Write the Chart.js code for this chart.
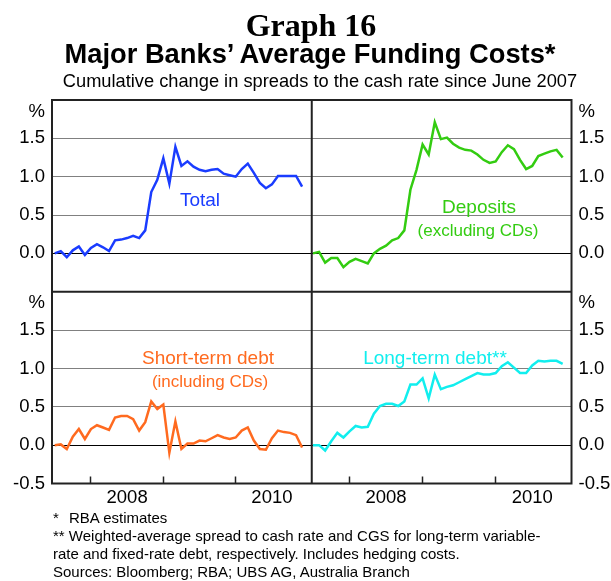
<!DOCTYPE html>
<html>
<head>
<meta charset="utf-8">
<script src="https://cdn.jsdelivr.net/npm/chart.js@4"></script>
<style>
  body { margin: 0; background: #fff; }
  #wrap { position: relative; width: 611px; height: 581px; overflow: hidden; font-family: "Liberation Sans", Arial, sans-serif; color: #000; }
  #chart { position: absolute; left: 0; top: 0; }
  .t { position: absolute; white-space: nowrap; line-height: 1; }
  .lab { position: absolute; white-space: nowrap; line-height: 1; transform: translate(-50%, -50%); }
</style>
</head>
<body>
<div id="wrap">
  <canvas id="chart" width="611" height="581"></canvas>
  <div class="t" style="left:161px;width:300px;text-align:center;top:9px;font-family:'Liberation Serif',serif;font-weight:bold;font-size:32px;">Graph 16</div>
  <div class="t" style="left:10px;width:600px;text-align:center;top:40px;font-weight:bold;font-size:27.3px;">Major Banks’ Average Funding Costs*</div>
  <div class="t" style="left:20px;width:600px;text-align:center;top:72px;font-size:18.25px;">Cumulative change in spreads to the cash rate since June 2007</div>

  <div class="lab" style="left:200px;top:199px;font-size:19px;color:#1a3cff;">Total</div>
  <div class="lab" style="left:479px;top:206px;font-size:19px;color:#33cc11;">Deposits</div>
  <div class="lab" style="left:478px;top:230px;font-size:17px;color:#33cc11;">(excluding CDs)</div>
  <div class="lab" style="left:208px;top:357px;font-size:19px;color:#ff6a1f;">Short-term debt</div>
  <div class="lab" style="left:210px;top:381px;font-size:17px;color:#ff6a1f;">(including CDs)</div>
  <div class="lab" style="left:435px;top:357px;font-size:19px;color:#11eeee;">Long-term debt**</div>

  <div class="t" style="left:53px;top:509px;font-size:15px;line-height:18px;">
    <span style="display:inline-block;width:16px;">*</span>RBA estimates<br>
    ** Weighted-average spread to cash rate and CGS for long-term variable-<br>
    rate and fixed-rate debt, respectively. Includes hedging costs.<br>
    Sources: Bloomberg; RBA; UBS AG, Australia Branch
  </div>
</div>
<script>
// Monthly observations, June 2007 to November 2010
const months = [];
for (let i = 0; i < 42; i++) {
  const m = (5 + i) % 12;
  const y = 2007 + Math.floor((5 + i) / 12);
  months.push(y + '-' + String(m + 1).padStart(2, '0'));
}

// Cumulative change in spreads (percentage points)
const total = [0.00, 0.03, -0.05, 0.04, 0.09, -0.02, 0.07, 0.12, 0.08, 0.03,
  0.17, 0.18, 0.20, 0.23, 0.20, 0.30, 0.80, 0.96, 1.24, 0.91,
  1.39, 1.14, 1.20, 1.13, 1.09, 1.07, 1.09, 1.10, 1.04, 1.02,
  1.00, 1.10, 1.17, 1.05, 0.92, 0.85, 0.90, 1.01, 1.01, 1.01,
  1.01, 0.87];
const deposits = [0.00, 0.02, -0.12, -0.06, -0.06, -0.18, -0.11, -0.07, -0.10, -0.13,
  0.00, 0.06, 0.10, 0.17, 0.20, 0.30, 0.83, 1.09, 1.42, 1.29,
  1.71, 1.49, 1.51, 1.43, 1.38, 1.35, 1.34, 1.29, 1.22, 1.18,
  1.20, 1.32, 1.41, 1.36, 1.22, 1.10, 1.14, 1.27, 1.30, 1.33,
  1.35, 1.25];
const shortTerm = [0.00, 0.01, -0.05, 0.11, 0.21, 0.08, 0.21, 0.26, 0.23, 0.20,
  0.36, 0.38, 0.38, 0.34, 0.19, 0.30, 0.57, 0.47, 0.53, -0.10,
  0.31, -0.05, 0.02, 0.02, 0.06, 0.05, 0.09, 0.13, 0.10, 0.08,
  0.10, 0.19, 0.23, 0.06, -0.05, -0.06, 0.09, 0.19, 0.17, 0.16,
  0.13, -0.03];
const longTerm = [0.00, 0.00, -0.07, 0.05, 0.16, 0.10, 0.18, 0.25, 0.23, 0.24,
  0.41, 0.51, 0.54, 0.54, 0.51, 0.57, 0.79, 0.79, 0.87, 0.61,
  0.92, 0.73, 0.76, 0.78, 0.82, 0.86, 0.90, 0.94, 0.92, 0.92,
  0.94, 1.03, 1.08, 1.01, 0.94, 0.94, 1.04, 1.10, 1.09, 1.10,
  1.10, 1.06];

// Axis ticks
const yTicksTop = [0, 0.5, 1.0, 1.5];
const yTicksBottom = [-0.5, 0, 0.5, 1.0, 1.5];
const unitTick = 1.85;   // where the "%" sits
const yearEnds = months.map((m, i) => m.endsWith('-12') ? i : -1).filter(i => i >= 0);
const yearLabels = {};
months.forEach((m, i) => {
  if (m.endsWith('-06') && (m.startsWith('2008') || m.startsWith('2010'))) yearLabels[i] = m.slice(0, 4);
});
const xTicks = yearEnds.concat(Object.keys(yearLabels).map(Number)).sort((a, b) => a - b);

const font = { family: "'Liberation Sans', Arial, sans-serif", size: 18.5 };

function xScale(weight, min, max) {
  return {
    type: 'linear', position: 'bottom', stack: 'x', stackWeight: 1, weight: weight,
    min: min, max: max,
    afterBuildTicks: s => { s.ticks = xTicks.map(v => ({ value: v })); },
    afterFit: s => { s.height = 30; },
    grid: {
      display: true, drawOnChartArea: false, drawTicks: true, tickLength: -7, tickWidth: 1.5,
      tickColor: c => yearEnds.includes(c.tick.value) ? '#222' : 'rgba(0,0,0,0)'
    },
    border: { display: false },
    ticks: {
      autoSkip: false, maxRotation: 0, padding: 10, color: '#000', font: font,
      callback: v => yearLabels[v] || ''
    }
  };
}

function yScale(position, stack, weight, ticks, showGrid) {
  return {
    type: 'linear', position: position, stack: stack, stackWeight: 1, weight: weight,
    min: -0.5, max: 2.0,
    afterBuildTicks: s => { s.ticks = ticks.concat([unitTick]).map(v => ({ value: v })); },
    afterFit: s => { s.width = position === 'left' ? 52 : 39.5; },
    grid: {
      display: showGrid, drawTicks: false, lineWidth: 1,
      color: c => {
        const v = c.tick.value;
        if (v === 0) return '#000';
        if (v === 0.5 || v === 1 || v === 1.5) return '#808080';
        return 'rgba(0,0,0,0)';
      }
    },
    border: { display: false },
    ticks: {
      autoSkip: false, padding: 7, color: '#000', font: font,
      callback: v => v === unitTick ? '%' : v.toFixed(1)
    }
  };
}

function line(data, color, xId, yId) {
  return {
    data: data.map((v, i) => ({ x: i, y: v })),
    xAxisID: xId, yAxisID: yId,
    borderColor: color, borderWidth: 2.5,
    pointRadius: 0, tension: 0, fill: false
  };
}

const framePlugin = {
  id: 'frame',
  afterDraw(chart) {
    const { ctx, chartArea: a } = chart;
    const midX = chart.scales.xL.right;
    const midY = chart.scales.yTL.bottom;
    ctx.save();
    ctx.strokeStyle = '#222';
    ctx.lineWidth = 2;
    ctx.strokeRect(a.left, a.top, a.right - a.left, a.bottom - a.top);
    ctx.beginPath();
    ctx.moveTo(midX, a.top); ctx.lineTo(midX, a.bottom);
    ctx.moveTo(a.left, midY); ctx.lineTo(a.right, midY);
    ctx.stroke();
    ctx.restore();
  }
};

new Chart(document.getElementById('chart').getContext('2d'), {
  type: 'line',
  data: {
    datasets: [
      line(total, '#1a3cff', 'xL', 'yTL'),
      line(deposits, '#33cc11', 'xR', 'yTR'),
      line(shortTerm, '#ff6a1f', 'xL', 'yBL'),
      line(longTerm, '#11eeee', 'xR', 'yBR')
    ]
  },
  options: {
    responsive: false,
    animation: false,
    layout: { padding: { top: 100, bottom: 67.5, left: 0, right: 0 } },
    plugins: { legend: { display: false }, tooltip: { enabled: false } },
    scales: {
      xL: xScale(1, -0.45, 42.6),
      xR: xScale(2, -0.2, 42.45),
      yTL: yScale('left', 'yl', 2, yTicksTop, true),
      yBL: yScale('left', 'yl', 1, yTicksBottom, true),
      yTR: yScale('right', 'yr', 1, yTicksTop, false),
      yBR: yScale('right', 'yr', 2, yTicksBottom, false)
    }
  },
  plugins: [framePlugin]
});
</script>
</body>
</html>
